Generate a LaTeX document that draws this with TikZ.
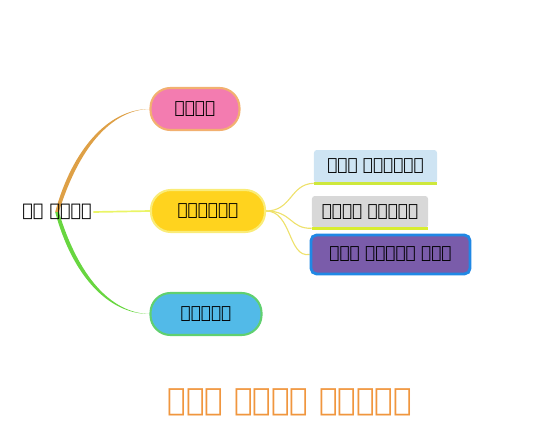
\documentclass[tikz,border=0pt]{standalone}
\usepackage{fontspec}
\setmainfont{DejaVu Sans}
\usetikzlibrary{positioning, calc, backgrounds}
\definecolor{mmpink}{RGB}{243,124,176}
\definecolor{mmpinkline}{RGB}{242,176,112}
\definecolor{mmyellow}{RGB}{255,211,30}
\definecolor{mmyellowline}{RGB}{250,236,120}
\definecolor{mmblue}{RGB}{82,186,232}
\definecolor{mmgreenline}{RGB}{96,208,112}
\definecolor{mmsky}{RGB}{206,228,243}
\definecolor{mmgray}{RGB}{216,216,216}
\definecolor{mmpurple}{RGB}{122,92,170}
\definecolor{mmdeepblue}{RGB}{32,136,229}
\definecolor{mmlime}{RGB}{206,232,60}
\definecolor{mmorange}{RGB}{222,160,70}
\definecolor{mmgreen}{RGB}{104,214,64}
\definecolor{mmtitle}{RGB}{240,150,62}
\tikzset{
    mainnode/.style={rectangle, rounded corners=0.5cm, minimum height=1.05cm, align=center, font=\fontsize{12}{14}\selectfont\bfseries, line width=1.5pt, inner sep=2pt},
    subnode/.style={rectangle, rounded corners=2pt, align=center, font=\fontsize{12}{14}\selectfont, inner sep=2pt},
    rootlbl/.style={font=\fontsize{12.5}{14}\selectfont\bfseries, text=black, inner sep=1pt},
    branch/.style={line width=1.2pt},
    twig/.style={line width=0.8pt, color=mmyellowline!90!olive},
    uline/.style={line width=2pt, color=mmlime}
}
\begin{document}
\begin{tikzpicture}[x=0.025cm, y=-0.025cm]
    \useasboundingbox (0,0) rectangle (540,442);

    % Root
    \node[rootlbl] (root) at (57,212) {ሙሉ ጤንነት};

    % Main branches
    \node[mainnode, fill=mmpink, draw=mmpinkline, minimum width=2.225cm] (phys) at (195,109) {አካላዊ};
    \node[mainnode, fill=mmyellow, draw=mmyellowline, minimum width=2.85cm] (ment) at (208,211) {አዕምሮአዊ};
    \node[mainnode, fill=mmblue, draw=mmgreenline, minimum width=2.775cm] (soc) at (206,314) {ማሕበራዊ};

    % Sub branches
    \node[subnode, fill=mmsky, minimum width=3.075cm, minimum height=0.825cm] (s1) at (375.5,166.5) {ጤናማ አስተሳሰብ};
    \node[subnode, fill=mmgray, minimum width=2.9cm, minimum height=0.8cm] (s2) at (370,212) {ስሜታዊ ደህንነት};
    \node[subnode, fill=mmpurple, draw=mmdeepblue, line width=2pt, rounded corners=4pt, minimum width=3.975cm, minimum height=0.975cm] (s3) at (390.5,254.5) {ጤናማ የሕይወት ዘይቤ};

    % Underlines
    \draw[uline] (s1.south west) -- (s1.south east);
    \draw[uline, color=mmlime!80!yellow] (s2.south west) -- (s2.south east);

    \begin{scope}[on background layer]
        % Branches from root
        \fill[mmorange] ($(root.center)+(-1.8,0)$) .. controls (72,150) and (108,109) .. (phys.west)
            .. controls (110,110) and (78,150) .. ($(root.center)+(1.8,0)$) -- cycle;
        \fill[mmgreen] ($(root.center)+(-1.8,0)$) .. controls (72,275) and (108,314) .. (soc.west)
            .. controls (110,313) and (78,275) .. ($(root.center)+(1.8,0)$) -- cycle;
        \draw[branch, color=mmlime!60!yellow!70] (root.east) -- (ment.west);

        % Twigs to sub branches
        \draw[twig] (ment.east) .. controls (292,211) and (290,184) .. (s1.south west);
        \draw[twig] (ment.east) .. controls (292,211) and (290,229) .. (s2.south west);
        \draw[twig] (ment.east) .. controls (292,211) and (288,258) .. (s3.west);
    \end{scope}

    % Title
    \node[font=\fontsize{22}{26}\selectfont\bfseries, text=mmtitle] (title) at (290,402) {የሙሉ ጤንነት ማሳያዎች};
\end{tikzpicture}
\end{document}
